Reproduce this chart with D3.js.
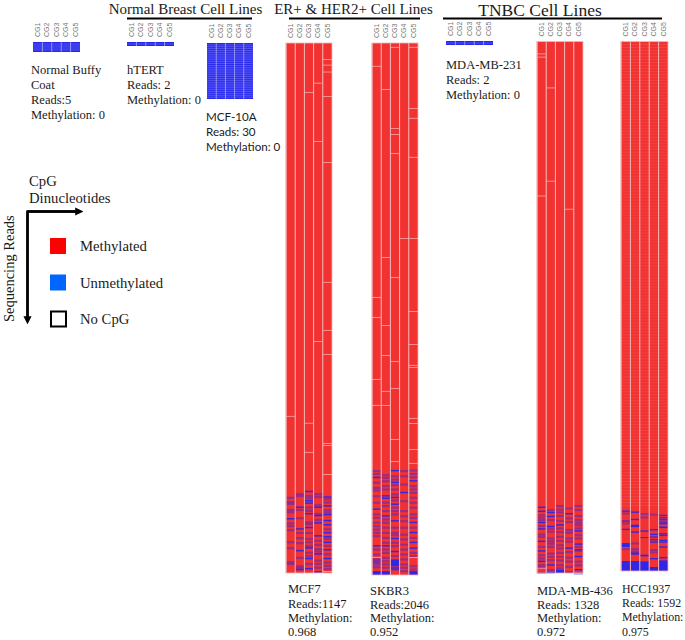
<!DOCTYPE html>
<html><head><meta charset="utf-8">
<script src="https://cdn.jsdelivr.net/npm/d3@7/dist/d3.min.js"></script>
<style>html,body{margin:0;background:#fff}svg{display:block}text{font-family:"Liberation Serif",serif;fill:#1a1a1a}</style>
</head><body><div id="c"></div>
<script>
const cpgSites = ["CG1","CG2","CG3","CG4","CG5"];
const groupTitles = ["Normal Breast Cell Lines","ER+ & HER2+ Cell Lines","TNBC Cell Lines"];
const legendLabels = ["Methylated","Unmethylated","No CpG"];

// read counts
const readsBuffy = 5, readsHtert = 2, readsMcf10a = 30, readsMda231 = 2;
const readsMcf7 = 1147, readsSkbr3 = 2046, readsMda436 = 1328, readsHcc = 1592;

// per CpG: read ranks. solid = pure unmethylated, mixed = interleaved with methylated, gaps = no CpG
const mcf7Solid = [
 [1028],
 [1003,1050,1097,1138],
 [969,989,994,1017,1047,1091,1114,1136],
 [1003,1021,1037,1065,1104,1143],
 [981,1000,1019,1032,1041,1058,1067,1079,1095,1114]];
const mcf7Mixed = [
 [982,991,995,1008,1013,1037,1043,1052,1078,1091,1121,1125],
 [974,978,1008,1026,1058,1069,1080,1112,1130,1134],
 [978,983,1003,1010,1035,1039,1058,1071,1078,1086,1101,1108,1125],
 [974,980,998,1017,1030,1075,1084,1093,1098,1118,1125,1133],
 [985,992,1009,1014,1050,1071,1086,1104,1122,1129,1136]];
const mcf7Gaps = [[807],[],[106,822,885],[86,212,645],[35,47,62,115,258,517,621,673,866,870,933,1143]];

const skbr3Solid = [
 [1668,1790,1931],
 [1739,1748,1816,1931],
 [1642,1687,1745,1771,1835,1903,1953],
 [1726],
 [1681,1841,1880,1918,1940]];
const skbr3Mixed = [
 [1642,1653,1687,1707,1717,1739,1764,1809,1822,1841,1854,1867,1880,1892,1944,1963,2001,2012],
 [1658,1668,1681,1700,1713,1764,1777,1796,1828,1841,1860,1880,1899,1918,1944,1957,1976,1989,2001,2014],
 [1662,1675,1696,1713,1732,1755,1783,1796,1809,1860,1880,1889,1918,1931,1969,2014,2021],
 [1642,1662,1694,1758,1796,1816,1835,1860,1887,1905,1925,1944,1963,1982,2001,2014,2027],
 [1640,1653,1666,1700,1713,1726,1745,1764,1783,1809,1822,1860,1899,1957,1969,2008,2021]];
const skbr3Gaps = [[88,977,1054,1292,1392,1977],[177,823,1085,1200,1338,1392],[15,327,350,423,900,1223,1327,1523,1608],[750],[15,250,288,438,750,1031,1158,1238,1246,1442,1462,1562,1615,1977]];
const skbr3Blocks = [[0,1982,2001,"m"],[0,2031,2046,"s"],[1,2031,2046,"s"],[2,1986,2012,"s"],[2,2014,2027,"m"],[4,2031,2046,"s"]];

const mda436Solid = [
 [1162,1172,1200,1216,1247,1271,1297],
 [1175,1185,1210,1306,1325],
 [1206],
 [1178,1264],
 [1221,1254,1268,1285,1318]];
const mda436Mixed = [
 [1181,1187,1193,1208,1229,1235,1260,1281,1289,1306,1311,1325],
 [1168,1193,1215,1222,1239,1246,1252,1260,1277,1285,1293,1318],
 [1158,1167,1174,1183,1195,1214,1223,1235,1245,1256,1264,1275,1285,1294,1306,1314],
 [1164,1189,1198,1218,1225,1239,1247,1273,1287,1297,1310,1323],
 [1158,1168,1183,1193,1200,1206,1214,1231,1239,1260,1270,1297,1306,1327]];
const mda436Gaps = [[30,38,385,1315],[115,348],[],[418],[]];
const mda436Blocks = [[2,1320,1328,"s"]];

const hccSolid = [
 [1410,1440,1465],
 [1413,1435,1473],
 [1470],
 [1466,1480,1488,1496,1503,1553],
 [1423,1430,1436,1443,1448,1478,1483,1498,1503,1518,1550]];
const hccMixed = [
 [1416,1446,1523],
 [1506,1523,1530],
 [1418,1428],
 [1420,1526,1533],
 []];
const hccGaps = [[],[],[],[],[]];
const hccBlocks = [
 [0,1508,1520,"s"],[0,1562,1592,"s"],
 [1,1453,1460,"s"],[1,1536,1543,"s"],[1,1562,1592,"s"],
 [2,1490,1493,"s"],[2,1543,1548,"s"],[2,1563,1592,"s"],
 [3,1580,1592,"s"],
 [4,1458,1463,"s"],[4,1560,1592,"s"]];
const hccRowStep = 9;

const panels = [
 {n:readsBuffy, box:[33,80,42,52], all:true},
 {n:readsHtert, box:[127,174,42,46], all:true},
 {n:readsMcf10a, box:[207,253,43,99], all:true},
 {n:readsMda231, box:[446,493,41,45], all:true},
 {n:readsMcf7, box:[286,332,43,573], solid:mcf7Solid, mixed:mcf7Mixed, gaps:mcf7Gaps, blocks:[], band:3.2},
 {n:readsSkbr3, box:[372,418,43,575], solid:skbr3Solid, mixed:skbr3Mixed, gaps:skbr3Gaps, blocks:skbr3Blocks, band:5.5},
 {n:readsMda436, box:[537,583,41.5,573], solid:mda436Solid, mixed:mda436Mixed, gaps:mda436Gaps, blocks:mda436Blocks, band:3.6},
 {n:readsHcc, box:[621,668,41.5,571], solid:hccSolid, mixed:hccMixed, gaps:hccGaps, blocks:hccBlocks, band:4, step:hccRowStep}
];

const captions = [
 {x:31,y:[74,89,104,119],t:["Normal Buffy","Coat","Reads:5","Methylation: 0"]},
 {x:127,y:[74,89,104],t:["hTERT","Reads: 2","Methylation: 0"]},
 {x:206,y:[121,136,151],t:["MCF-10A","Reads: 30","Methylation: 0"],f:"Lato",s:11.6},
 {x:446,y:[69,84,99],t:["MDA-MB-231","Reads: 2","Methylation: 0"]},
 {x:288,y:[593,608,622,636],t:["MCF7","Reads:1147","Methylation:","0.968"]},
 {x:370,y:[595,609,622,636],t:["SKBR3","Reads:2046","Methylation:","0.952"]},
 {x:537,y:[595,609,622,636],t:["MDA-MB-436","Reads: 1328","Methylation:","0.972"]},
 {x:622,y:[593,607,621,636],t:["HCC1937","Reads: 1592","Methylation:","0.975"],s:11.9}
];

const RED="#f23131", BLUE="#2626ee", PALE="#f3b6b6";
const svg=d3.select("#c").append("svg").attr("width",685).attr("height",640);

panels.forEach(p=>{
  const [x0,x1,y0,y1]=p.box;
  const x=d3.scaleBand().domain(cpgSites).range([x0,x1]);
  const y=d3.scaleLinear().domain([0,p.n]).range([y0,y1]);
  const g=svg.append("g");
  if(p.all){
    const rows=d3.range(p.n);
    g.selectAll(null).data(cpgSites).join("rect")
     .attr("x",d=>x(d)).attr("width",x.bandwidth()).attr("y",y(0)).attr("height",y(p.n)-y(0)).attr("fill",BLUE);
    g.selectAll(null).data(rows.slice(1)).join("line")
     .attr("x1",x0).attr("x2",x1).attr("y1",d=>y(d)).attr("y2",d=>y(d))
     .attr("stroke","#c9c9fa").attr("stroke-width",0.3);
    g.selectAll(null).data(cpgSites.slice(1)).join("line")
     .attr("x1",d=>x(d)).attr("x2",d=>x(d)).attr("y1",y0).attr("y2",y1)
     .attr("stroke","#b9b9f5").attr("stroke-width",0.5);
  } else {
    g.selectAll(null).data(cpgSites).join("rect")
     .attr("x",d=>x(d)).attr("width",x.bandwidth()).attr("y",y(0)).attr("height",y(p.n)-y(0)).attr("fill",RED);
    cpgSites.forEach((c,i)=>{
      g.selectAll(null).data(p.mixed[i]).join("rect")
       .attr("x",x(c)).attr("width",x.bandwidth()).attr("y",d=>y(d)).attr("height",y(p.band*1.5)-y(0))
       .attr("fill",BLUE).attr("opacity",0.42);
      g.selectAll(null).data(p.solid[i]).join("rect")
       .attr("x",x(c)).attr("width",x.bandwidth()).attr("y",d=>y(d)).attr("height",y(p.band)-y(0))
       .attr("fill",BLUE).attr("opacity",0.9);
      g.selectAll(null).data(p.gaps[i]).join("rect")
       .attr("x",x(c)).attr("width",x.bandwidth()).attr("y",d=>y(d)).attr("height",0.8)
       .attr("fill","#f8a8a8");
    });
    g.selectAll(null).data(p.blocks).join("rect")
     .attr("x",d=>x(cpgSites[d[0]])).attr("width",x.bandwidth())
     .attr("y",d=>y(d[1])).attr("height",d=>y(d[2])-y(d[1]))
     .attr("fill",BLUE).attr("opacity",d=>d[3]==="s"?0.95:0.55);
    if(p.step){
      g.selectAll(null).data(d3.range(0,1400,p.step)).join("line")
       .attr("x1",x0).attr("x2",x1).attr("y1",d=>y(d)).attr("y2",d=>y(d))
       .attr("stroke","#fff").attr("stroke-opacity",0.1).attr("stroke-width",0.8);
    }
    g.selectAll(null).data(cpgSites).join("line")
     .attr("x1",d=>x(d)).attr("x2",d=>x(d)).attr("y1",y0).attr("y2",y1)
     .attr("stroke",PALE).attr("stroke-width",1);
    g.append("rect").attr("x",x0).attr("y",y0).attr("width",x1-x0).attr("height",y1-y0)
     .attr("fill","none").attr("stroke",PALE).attr("stroke-width",0.8);
  }
  const ax=svg.append("g").attr("transform",`translate(0,${y0-4})`).call(d3.axisTop(x).tickSize(0).tickPadding(0));
  ax.select(".domain").remove();
  ax.selectAll("text").attr("transform","rotate(-90)").attr("x",1).attr("y",0).attr("dy","0.32em")
    .attr("text-anchor","start").style("font-family","'Liberation Sans',sans-serif").style("font-size","7px").style("fill","#777");
});

// group headers
const heads=[{x:185.5,y:14,s:15,x1:127,x2:252},{x:353.5,y:14,s:15,x1:289,x2:420},{x:540,y:16,s:17.5,x1:443,x2:662}];
heads.forEach((h,i)=>{
  svg.append("text").attr("x",h.x).attr("y",h.y).attr("text-anchor","middle").style("font-size",h.s+"px").text(groupTitles[i]);
  svg.append("line").attr("x1",h.x1).attr("x2",h.x2).attr("y1",18.5).attr("y2",18.5).attr("stroke","#000").attr("stroke-width",2.2);
});

// captions
captions.forEach(c=>{
  c.t.forEach((s,i)=>svg.append("text").attr("x",c.x).attr("y",c.y[i])
    .style("font-size",(c.s||12.5)+"px").style("font-family",c.f||null).text(s));
});

// legend
svg.append("defs").append("marker").attr("id","ah").attr("viewBox","0 0 10 10").attr("refX",1).attr("refY",5)
 .attr("markerWidth",3.4).attr("markerHeight",3.4).attr("orient","auto")
 .append("path").attr("d","M0,0L10,5L0,10Z").attr("fill","#000");
svg.append("path").attr("d","M75,211.5H27.5V317").attr("fill","none").attr("stroke","#000").attr("stroke-width",2.4);
svg.append("line").attr("x1",27.5).attr("y1",211.5).attr("x2",76).attr("y2",211.5).attr("stroke","#000").attr("stroke-width",2.4).attr("marker-end","url(#ah)");
svg.append("line").attr("x1",27.5).attr("y1",211.5).attr("x2",27.5).attr("y2",317).attr("stroke","#000").attr("stroke-width",2.4).attr("marker-end","url(#ah)");
svg.append("text").attr("x",29).attr("y",186).style("font-size","14.7px").text("CpG");
svg.append("text").attr("x",29).attr("y",203).style("font-size","14.7px").text("Dinucleotides");
svg.append("text").attr("transform","translate(13.5,322) rotate(-90)").style("font-size","14.5px").text("Sequencing Reads");
const legendY=d3.scalePoint().domain(legendLabels).range([246,319]);
const legendFill=d3.scaleOrdinal().domain(legendLabels).range(["#ff0000","#0066ff","#fff"]);
legendLabels.forEach((l,i)=>{
  svg.append("rect").attr("x",i===2?51:50).attr("y",legendY(l)-(i===2?7.5:8)).attr("width",i===2?15:16).attr("height",i===2?15:16)
    .attr("fill",legendFill(l)).attr("stroke",i===2?"#000":"none").attr("stroke-width",2);
  svg.append("text").attr("x",80).attr("y",legendY(l)+5).style("font-size","14.7px").text(l);
});
</script></body></html>
